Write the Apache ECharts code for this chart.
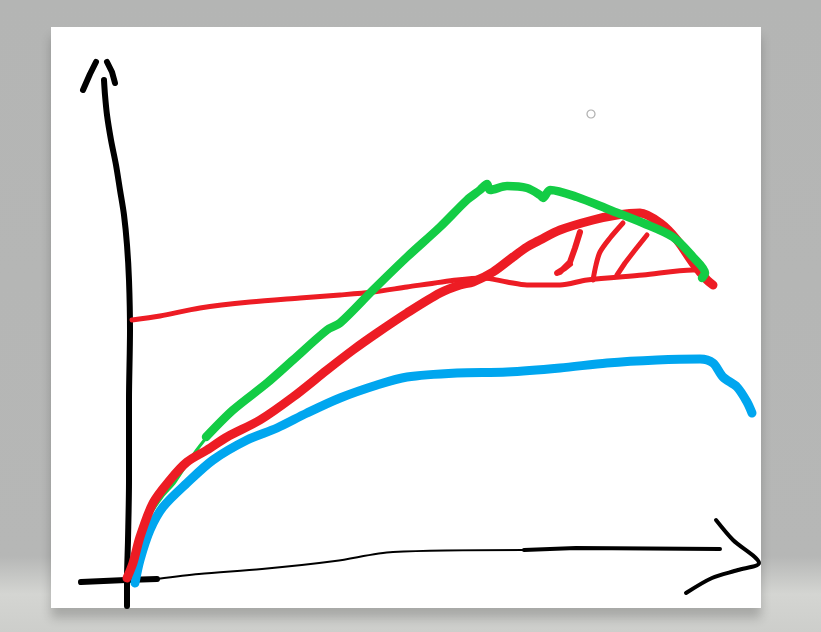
<!DOCTYPE html>
<html lang="en">
<head>
    <meta charset="UTF-8">
    <title>sketch</title>
    <script src="https://cdn.jsdelivr.net/npm/echarts@6/dist/echarts.min.js"></script>
    <style>
        html, body { margin: 0; padding: 0; }
        #main { width: 821px; height: 632px; }
    </style>
</head>
<body>
    <div id="main"></div>
    <script>
        // points of the sketch, [x, y] offsets from the drawn origin
        var yAxisLine = [[-1,-28],[-1,-2],[0,38],[1,98],[1,178],[2,248],[1,298],[-1,333],[-4,363],[-8,388],[-12,413],[-17,438],[-21,463],[-23,483],[-24,498]];
        var yArrowLeft = [[-32,516],[-38,504],[-45,488]];
        var yArrowRight = [[-21,516],[-16,506],[-13,495]];
        var xAxisLeft = [[-47,-4],[-2,-2],[29,-1]];
        var xAxisMid = [[29,-1],[71,4],[134,9],[207,17],[265,26],[396,28]];
        var xAxisRight = [[396,28],[448,30],[592,29]];
        var xArrow = [[588,58],[605,38],[631,15],[610,8],[584,0],[558,-15]];

        var greenLow = [[2,0],[6,20],[12,41],[22,63],[34,81],[47,96],[65,123],[82,145]];
        var greenHigh = [[78,141],[105,168],[139,195],[165,218],[199,248],[212,255],[245,288],[279,321],[312,351],[339,378],[352,388],[359,394],[362,388],[379,392],[399,390],[412,383],[415,380],[422,388],[449,381],[482,368],[515,355],[545,341],[565,321],[577,305],[574,300]];
        var redThick = [[-1,0],[5,15],[12,41],[25,75],[42,98],[59,116],[79,128],[99,141],[132,158],[165,181],[199,208],[225,228],[249,245],[279,265],[312,285],[332,293],[345,296],[365,306],[385,321],[399,331],[412,338],[432,348],[465,358],[489,363],[512,365],[532,355],[549,338],[565,315],[579,298],[585,293]];
        var redThin = [[4,258],[32,262],[72,270],[122,276],[172,280],[212,283],[245,286],[279,291],[329,298],[355,300],[379,296],[399,293],[432,293],[459,298],[515,303],[565,308],[572,308]];
        var hatch1 = [[452,346],[447,330],[442,316],[432,306],[429,305],[437,310],[442,314]];
        var hatch2 = [[495,355],[482,340],[472,326],[468,313],[465,298]];
        var hatch3 = [[519,343],[507,328],[497,315],[489,303]];
        var blue = [[7,-5],[12,18],[22,48],[35,71],[59,95],[85,118],[119,138],[149,150],[179,165],[212,180],[249,193],[279,201],[329,205],[379,206],[432,210],[479,215],[529,218],[572,219],[585,215],[595,201],[609,191],[619,176],[624,165]];
        var dot = [[463,464]];

        function stroke(data, color, width, z, smooth) {
            return {
                type: 'line',
                data: data,
                symbol: 'none',
                smooth: smooth || false,
                z: z,
                silent: true,
                lineStyle: { color: color, width: width, cap: 'round', join: 'round' }
            };
        }

        var myChart = echarts.init(document.getElementById('main'));
        var option = {
            animation: false,
            backgroundColor: {
                type: 'linear', x: 0, y: 0, x2: 0, y2: 1,
                colorStops: [
                    { offset: 0, color: '#b4b5b4' },
                    { offset: 0.88, color: '#b6b7b6' },
                    { offset: 0.94, color: '#d4d5d2' },
                    { offset: 1, color: '#cdcecb' }
                ]
            },
            grid: {
                left: 51, top: 27, width: 710, height: 581,
                show: true, backgroundColor: '#ffffff', borderWidth: 0,
                shadowColor: 'rgba(0,0,0,0.2)', shadowBlur: 10, shadowOffsetY: 10
            },
            xAxis: {
                type: 'value', min: -77, max: 633,
                axisLine: { show: false }, axisTick: { show: false },
                axisLabel: { show: false }, splitLine: { show: false }
            },
            yAxis: {
                type: 'value', min: -30, max: 551,
                axisLine: { show: false }, axisTick: { show: false },
                axisLabel: { show: false }, splitLine: { show: false }
            },
            series: [
                stroke(yAxisLine, '#000000', 6, 1, 0.3),
                stroke(yArrowLeft, '#000000', 6, 1),
                stroke(yArrowRight, '#000000', 6, 1),
                stroke(xAxisLeft, '#000000', 6, 1),
                stroke(xAxisMid, '#000000', 2, 1, 0.3),
                stroke(xAxisRight, '#000000', 4, 1),
                stroke(xArrow, '#000000', 4, 1, 0.3),
                stroke(blue, '#00a6ef', 9, 2, 0.3),
                stroke(greenLow, '#13cc45', 3, 2, 0.3),
                stroke(redThin, '#ed1c24', 5, 3, 0.3),
                stroke(hatch1, '#ed1c24', 6, 3),
                stroke(hatch2, '#ed1c24', 5, 3, 0.3),
                stroke(hatch3, '#ed1c24', 5, 3),
                stroke(redThick, '#ed1c24', 9, 3, 0.3),
                stroke(greenHigh, '#13cc45', 8.5, 4, 0.3),
                {
                    type: 'scatter',
                    data: dot,
                    symbol: 'circle',
                    symbolSize: 8,
                    silent: true,
                    z: 5,
                    itemStyle: { color: '#ffffff', borderColor: '#9a9a9a', borderWidth: 1.2 }
                }
            ]
        };
        myChart.setOption(option);
    </script>
</body>
</html>
